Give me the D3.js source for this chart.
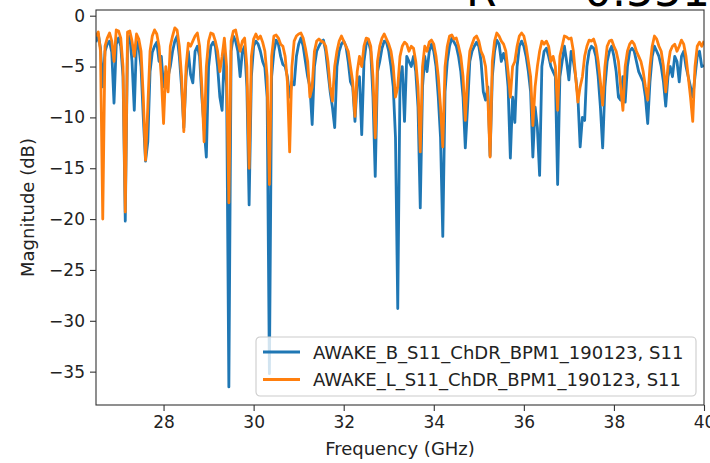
<!DOCTYPE html>
<html>
<head>
<meta charset="utf-8">
<script src="https://cdn.jsdelivr.net/npm/d3@7"></script>
<style>
  body { margin: 0; background: #fff; }
  svg { display: block; font-family: "DejaVu Sans", sans-serif; }
</style>
</head>
<body>
<svg id="chart" width="710" height="463"></svg>
<script>
// sweep grid: 26.50 .. 40.00 GHz, 0.05 GHz step
var freqStart = 26.5, freqStep = 0.05;

// S11 magnitude in dB
var seriesB = [
  -2.6,-1.8,-3.2,-7.0,-3.5,-2.8,-2.5,-3.6,-8.6,-2.8,
  -2.2,-3.0,-6.0,-20.2,-2.8,-2.0,-4.5,-9.3,-2.5,-3.0,
  -5.0,-10.0,-14.3,-12.4,-5.5,-3.6,-3.0,-2.6,-4.5,-4.0,
  -7.0,-5.5,-6.0,-5.0,-3.5,-2.5,-2.0,-4.0,-7.0,-11.0,
  -6.0,-3.5,-5.8,-6.6,-3.5,-3.0,-4.0,-8.0,-11.0,-13.9,
  -5.0,-3.0,-2.6,-3.0,-5.0,-8.0,-9.3,-3.5,-7.0,-36.5,
  -3.5,-2.0,-2.5,-3.5,-6.0,-3.5,-3.0,-7.0,-18.6,-6.0,
  -3.0,-2.5,-2.8,-3.5,-4.5,-5.1,-8.0,-35.2,-6.0,-3.5,
  -2.4,-2.8,-4.0,-4.8,-5.0,-6.0,-8.0,-6.5,-6.8,-4.0,
  -2.8,-2.2,-3.0,-4.5,-6.0,-7.0,-10.7,-5.0,-3.5,-3.0,
  -2.6,-2.4,-3.5,-5.5,-7.5,-9.0,-11.0,-5.0,-3.5,-2.8,
  -2.5,-3.0,-4.5,-6.5,-7.0,-10.4,-6.5,-6.0,-11.7,-4.5,
  -2.8,-2.5,-3.5,-8.0,-15.8,-5.5,-4.5,-3.2,-2.5,-2.6,
  -3.5,-5.0,-7.0,-12.0,-28.8,-6.5,-5.0,-10.4,-4.0,-4.5,
  -5.0,-4.0,-5.5,-9.0,-18.9,-7.0,-4.0,-5.5,-3.5,-2.8,
  -3.5,-5.0,-8.0,-12.0,-21.7,-7.5,-4.5,-3.0,-2.2,-2.6,
  -3.0,-4.0,-5.5,-8.0,-13.0,-9.0,-4.5,-3.5,-3.0,-2.6,
  -3.0,-4.5,-7.5,-8.3,-7.0,-13.8,-6.0,-3.5,-2.4,-2.8,
  -4.5,-3.7,-4.5,-7.0,-14.0,-8.0,-10.5,-5.0,-3.0,-2.5,
  -3.0,-4.0,-5.5,-7.5,-13.9,-9.0,-11.0,-15.7,-5.0,-3.5,
  -3.2,-4.0,-5.0,-5.5,-6.0,-16.6,-6.0,-4.5,-3.0,-4.5,
  -6.3,-3.5,-4.5,-6.0,-8.0,-12.9,-10.0,-10.3,-5.0,-3.5,
  -3.0,-3.2,-4.0,-6.0,-9.0,-13.0,-7.0,-4.5,-3.5,-3.0,
  -4.0,-5.5,-8.0,-8.3,-6.0,-8.5,-5.0,-3.5,-3.2,-3.5,
  -4.5,-5.5,-6.0,-6.5,-8.0,-10.6,-6.5,-4.0,-3.0,-3.5,
  -4.0,-5.0,-6.5,-8.9,-6.0,-5.0,-6.0,-4.0,-4.5,-6.5,
  -4.0,-3.5,-5.0,-6.0,-7.0,-8.0,-6.0,-4.0,-3.5,-5.0,
  -4.9
];

var seriesL = [
  -2.0,-1.6,-3.5,-20.0,-3.0,-2.2,-1.7,-2.5,-4.5,-1.4,
  -1.5,-2.2,-5.0,-19.3,-1.6,-1.5,-2.5,-4.0,-1.8,-2.3,
  -3.5,-8.0,-14.2,-9.0,-3.5,-2.0,-1.4,-1.8,-3.0,-6.0,
  -10.6,-5.0,-7.5,-3.0,-2.0,-1.2,-1.4,-3.0,-6.0,-11.4,
  -5.0,-2.7,-3.0,-2.5,-2.0,-1.7,-3.0,-7.0,-12.4,-5.0,
  -2.5,-1.7,-1.8,-2.5,-3.5,-5.5,-4.0,-2.2,-5.0,-18.4,
  -2.5,-1.5,-1.4,-2.5,-3.5,-2.5,-2.2,-5.0,-15.0,-4.0,
  -2.3,-1.8,-2.3,-2.0,-2.6,-3.5,-6.0,-16.6,-4.0,-2.0,
  -1.9,-2.2,-2.8,-3.0,-4.0,-6.5,-13.4,-5.0,-2.5,-2.0,
  -1.8,-1.7,-2.2,-3.2,-4.5,-8.0,-7.0,-3.5,-2.5,-2.3,
  -2.5,-2.6,-3.0,-4.5,-7.0,-8.4,-5.0,-3.5,-2.5,-2.0,
  -2.5,-3.0,-3.5,-5.0,-6.5,-9.9,-5.5,-4.0,-5.0,-3.0,
  -2.2,-2.3,-3.0,-6.0,-12.0,-4.5,-3.0,-2.2,-1.8,-2.3,
  -2.8,-3.5,-5.0,-8.0,-7.0,-4.0,-3.0,-2.6,-2.8,-3.5,
  -3.0,-3.2,-4.5,-7.0,-13.4,-5.0,-3.0,-3.5,-2.6,-2.4,
  -2.8,-4.0,-6.0,-9.0,-12.9,-5.0,-3.0,-2.0,-1.9,-2.3,
  -2.2,-3.0,-4.0,-6.0,-10.3,-6.0,-3.5,-2.8,-2.2,-2.0,
  -2.5,-3.5,-4.0,-5.0,-8.0,-13.9,-4.5,-2.5,-1.7,-2.0,
  -2.5,-2.8,-3.5,-5.5,-8.0,-5.0,-4.5,-3.0,-2.0,-1.7,
  -2.0,-3.0,-4.5,-6.0,-10.8,-7.0,-5.0,-3.5,-2.5,-2.8,
  -2.5,-3.0,-4.5,-4.0,-5.0,-9.3,-4.0,-3.0,-2.0,-2.1,
  -2.3,-2.2,-3.5,-6.0,-8.5,-7.0,-6.0,-4.0,-3.0,-2.4,
  -2.5,-2.3,-3.0,-4.5,-6.5,-8.8,-5.0,-3.0,-2.5,-2.4,
  -3.0,-3.5,-4.5,-7.0,-9.3,-5.0,-3.5,-2.8,-2.5,-2.8,
  -3.5,-4.0,-4.5,-5.5,-7.0,-8.3,-5.0,-3.0,-2.0,-2.3,
  -3.0,-3.5,-5.0,-7.5,-5.0,-3.5,-3.0,-2.8,-3.5,-3.0,
  -2.4,-2.8,-4.0,-6.0,-8.0,-10.4,-5.0,-3.0,-2.6,-3.0,
  -2.5
];

var seriesNames = [
  "AWAKE_B_S11_ChDR_BPM1_190123, S11",
  "AWAKE_L_S11_ChDR_BPM1_190123, S11"
];
var seriesColors = ["#1f77b4", "#ff7f0e"];

var xTicks = [28, 30, 32, 34, 36, 38, 40];
var yTicks = [0, -5, -10, -15, -20, -25, -30, -35];

// title, only its lower edge shows in the picture
var titleParts = ["R =", "0.551"];

var margin = {left: 96, right: 6, top: 10, bottom: 58};
var W = 710, H = 463;

var svg = d3.select("#chart");

var x = d3.scaleLinear()
  .domain([26.5, 40])
  .range([margin.left, W - margin.right]);

var y = d3.scaleLinear()
  .domain([-38.28, 0.56])
  .range([H - margin.bottom, margin.top]);

var freq = d3.range(seriesB.length).map(function(i) { return freqStart + i * freqStep; });

var title = svg.append("text")
  .attr("y", 6)
  .attr("font-size", 44)
  .attr("fill", "#000");
title.append("tspan").attr("x", 466).text(titleParts[0]);
title.append("tspan").attr("x", 584).text(titleParts[1]);

svg.append("defs").append("clipPath").attr("id", "plotclip")
  .append("rect")
  .attr("x", margin.left).attr("y", margin.top)
  .attr("width", W - margin.right - margin.left)
  .attr("height", H - margin.bottom - margin.top);

var line = d3.line()
  .x(function(d) { return x(d[0]); })
  .y(function(d) { return y(d[1]); });

var g = svg.append("g").attr("clip-path", "url(#plotclip)");
[seriesB, seriesL].forEach(function(s, k) {
  g.append("path")
    .datum(s.map(function(v, i) { return [freq[i], v]; }))
    .attr("d", line)
    .attr("fill", "none")
    .attr("stroke", seriesColors[k])
    .attr("stroke-width", 2.8)
    .attr("stroke-linejoin", "round")
    .attr("stroke-linecap", "butt");
});

// axes
var xAxis = d3.axisBottom(x).tickValues(xTicks).tickFormat(d3.format("d")).tickSize(6).tickPadding(5);
var yAxis = d3.axisLeft(y).tickValues(yTicks)
  .tickFormat(function(d) { return d < 0 ? "\u2212" + Math.abs(d) : d; })
  .tickSize(6).tickPadding(5);

var gx = svg.append("g")
  .attr("transform", "translate(0," + (H - margin.bottom) + ")")
  .call(xAxis);
var gy = svg.append("g")
  .attr("transform", "translate(" + margin.left + ",0)")
  .call(yAxis);

[gx, gy].forEach(function(a) {
  a.select(".domain").remove();
  a.selectAll(".tick line").attr("stroke", "#333").attr("stroke-width", 1.1);
  a.selectAll(".tick text")
    .attr("fill", "#222")
    .attr("font-size", 17)
    .attr("font-family", "DejaVu Sans, sans-serif");
});

// frame
svg.append("rect")
  .attr("x", margin.left).attr("y", margin.top)
  .attr("width", W - margin.right - margin.left)
  .attr("height", H - margin.bottom - margin.top)
  .attr("fill", "none")
  .attr("stroke", "#333")
  .attr("stroke-width", 1.1);

// axis labels
svg.append("text")
  .attr("x", (margin.left + W - margin.right) / 2)
  .attr("y", 455)
  .attr("text-anchor", "middle")
  .attr("font-size", 18)
  .attr("fill", "#222")
  .text("Frequency (GHz)");

svg.append("text")
  .attr("transform", "translate(34," + ((margin.top + H - margin.bottom) / 2) + ") rotate(-90)")
  .attr("text-anchor", "middle")
  .attr("font-size", 18)
  .attr("fill", "#222")
  .text("Magnitude (dB)");

// legend
var lg = svg.append("g").attr("transform", "translate(256,337)");
lg.append("rect")
  .attr("width", 440).attr("height", 59)
  .attr("rx", 4)
  .attr("fill", "#fff").attr("fill-opacity", 0.8)
  .attr("stroke", "#ccc").attr("stroke-width", 1.1);
seriesNames.forEach(function(name, k) {
  var yy = 15 + k * 27.5;
  lg.append("line")
    .attr("x1", 7).attr("x2", 44)
    .attr("y1", yy).attr("y2", yy)
    .attr("stroke", seriesColors[k])
    .attr("stroke-width", 2.8);
  lg.append("text")
    .attr("x", 57).attr("y", yy + 6.5)
    .attr("font-size", 18)
    .attr("fill", "#222")
    .text(name);
});
</script>
</body>
</html>
